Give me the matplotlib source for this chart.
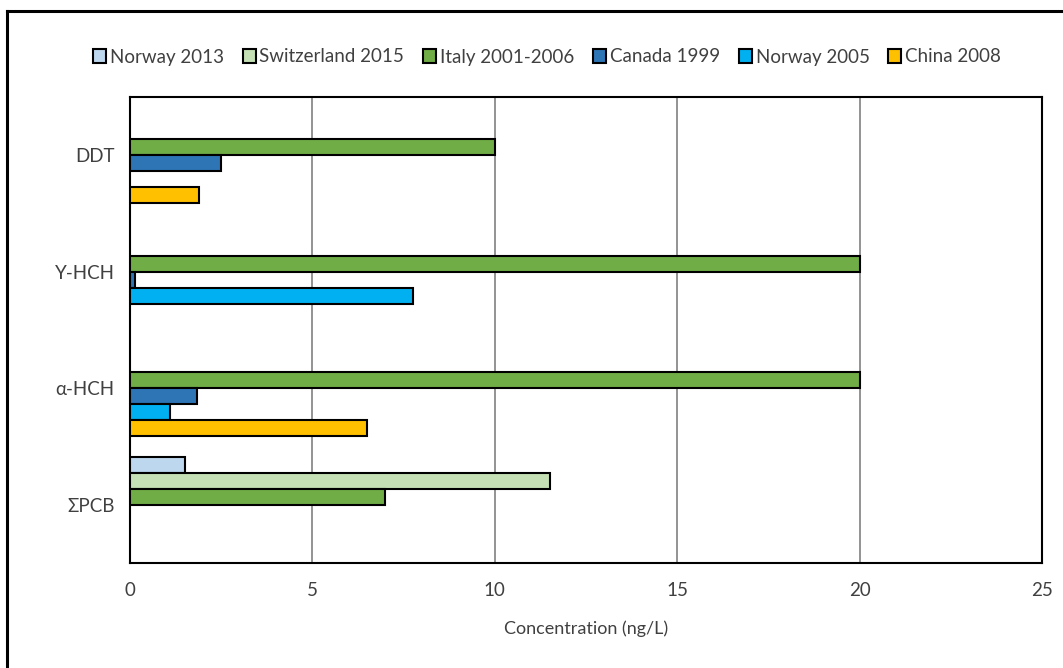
import numpy as np
import matplotlib
matplotlib.use("Agg")
import matplotlib.pyplot as plt
from matplotlib.lines import Line2D

plt.rcParams["font.family"] = ["Lato", "DejaVu Sans"]

compounds = ["ΣPCB", "α-HCH", "Υ-HCH", "DDT"]
series = ["Norway 2013", "Switzerland 2015", "Italy 2001-2006",
          "Canada 1999", "Norway 2005", "China 2008"]
colors = ["#BDD7EE", "#C5E0B4", "#70AD47", "#2E75B6", "#00B0F0", "#FFC000"]

# values per series, in the order of compounds (nan = no bar)
norway_2013 = [1.5, np.nan, np.nan, np.nan]
switzerland_2015 = [11.5, np.nan, np.nan, np.nan]
italy_2001_2006 = [7.0, 20.0, 20.0, 10.0]
canada_1999 = [np.nan, 1.85, 0.15, 2.5]
norway_2005 = [np.nan, 1.1, 7.75, np.nan]
china_2008 = [np.nan, 6.5, np.nan, 1.9]

values = [norway_2013, switzerland_2015, italy_2001_2006,
          canada_1999, norway_2005, china_2008]

fig = plt.figure(figsize=(10.63, 6.68), dpi=100)
ax = fig.add_axes([0.1223, 0.1572, 0.858, 0.6976])

h = 0.1373
y = np.arange(len(compounds))
for i, (name, vals, c) in enumerate(zip(series, values, colors)):
    offs = (2.5 - i) * h
    ax.barh(y + offs, vals, height=h, color=c, edgecolor="black",
            linewidth=1.5, label=name, zorder=3)

ax.set_xlim(0, 25)
ax.set_ylim(-0.5, 3.5)
ax.set_xticks([0, 5, 10, 15, 20, 25])
ax.set_yticks(y)
ax.set_yticklabels(compounds)
ax.tick_params(axis="both", length=0, labelsize=13.5, colors="#404040")
ax.tick_params(axis="x", pad=14)
ax.tick_params(axis="y", pad=11)
ax.grid(axis="x", color="#808080", linewidth=1.2, zorder=0)
for s in ax.spines.values():
    s.set_linewidth(1.5)
    s.set_color("black")

ax.set_xlabel("Concentration (ng/L)", fontsize=13, color="#404040", labelpad=15)

fig.legend(*ax.get_legend_handles_labels(), loc="center",
           bbox_to_anchor=(547 / 1063, 1 - 57 / 668), ncol=6, frameon=False,
           fontsize=13.5, handlelength=0.7, handleheight=0.7, handletextpad=0.2,
           columnspacing=1.0, labelcolor="#404040")

# outer chart border
fig.add_artist(Line2D([7 / 1063, 7 / 1063], [0, 1 - 11 / 668], color="black",
                      linewidth=2.2, transform=fig.transFigure))
fig.add_artist(Line2D([7 / 1063, 1], [1 - 11 / 668, 1 - 11 / 668], color="black",
                      linewidth=2.2, transform=fig.transFigure))

fig.savefig("out.png", dpi=100)
